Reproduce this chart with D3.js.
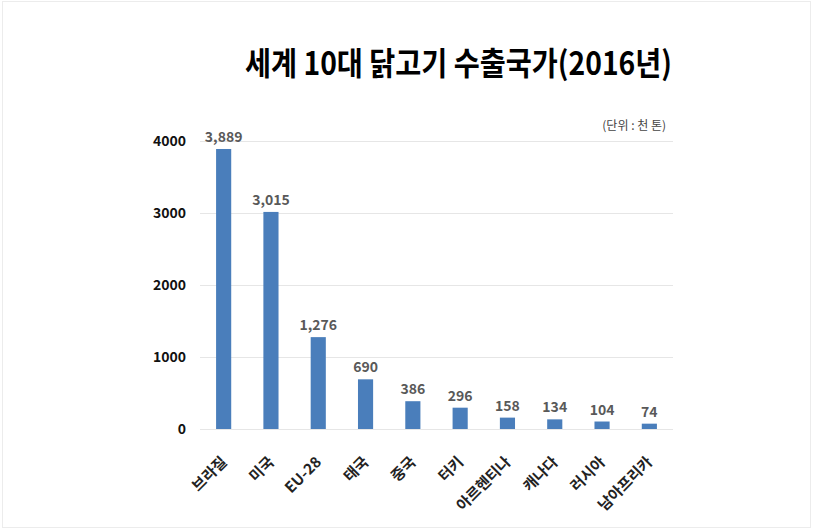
<!DOCTYPE html>
<html>
<head>
<meta charset="utf-8">
<script src="https://cdn.jsdelivr.net/npm/d3@7"></script>
<style>
  body { margin: 0; background: #fff; }
  svg text { font-family: "Noto Sans CJK KR", "Noto Sans", sans-serif; }
</style>
</head>
<body>
<svg id="chart" width="814" height="530"></svg>
<script>
// 세계 10대 닭고기 수출국가 (2016년), 단위: 천 톤
const countries = ['브라질', '미국', 'EU-28', '태국', '중국', '터키', '아르헨티나', '캐나다', '러시아', '남아프리카'];
const exportVolumes = [3889, 3015, 1276, 690, 386, 296, 158, 134, 104, 74];
const yTicks = [0, 1000, 2000, 3000, 4000];

const svg = d3.select('#chart');

// faint frame round the picture
svg.append('rect')
  .attr('x', 2.5).attr('y', 1.5)
  .attr('width', 808).attr('height', 526)
  .attr('fill', 'none')
  .attr('stroke', '#ececec');

const plotLeft = 200, plotRight = 673, plotTop = 141, plotBottom = 429;

const x = d3.scaleBand()
  .domain(countries)
  .range([plotLeft, plotRight])
  .paddingInner(0.68)
  .paddingOuter(0.34);

const y = d3.scaleLinear()
  .domain([0, 4000])
  .range([plotBottom, plotTop]);

// gridlines
svg.append('g')
  .selectAll('line')
  .data(yTicks)
  .enter()
  .append('line')
  .attr('x1', plotLeft).attr('x2', plotRight)
  .attr('y1', d => y(d) + 0.5).attr('y2', d => y(d) + 0.5)
  .attr('stroke', '#e6e6e6')
  .attr('stroke-width', 1.2);

// y axis labels
const yAxis = d3.axisLeft(y).tickValues(yTicks).tickFormat(d3.format('d')).tickSize(0).tickPadding(0);
const gy = svg.append('g')
  .attr('transform', 'translate(186,0)')
  .call(yAxis);
gy.select('.domain').remove();
gy.selectAll('text')
  .attr('font-size', 14)
  .attr('font-weight', 'bold')
  .attr('fill', '#111')
  .attr('font-family', '"Noto Sans CJK KR", sans-serif');

// bars
svg.append('g')
  .selectAll('rect')
  .data(exportVolumes)
  .enter()
  .append('rect')
  .attr('x', (d, i) => x(countries[i]))
  .attr('y', d => y(d))
  .attr('width', x.bandwidth())
  .attr('height', d => plotBottom - y(d))
  .attr('fill', '#4a7ebb');

// value labels
svg.append('g')
  .selectAll('text')
  .data(exportVolumes)
  .enter()
  .append('text')
  .attr('x', (d, i) => x(countries[i]) + x.bandwidth() / 2)
  .attr('y', d => y(d) - 7)
  .attr('text-anchor', 'middle')
  .attr('font-size', 14)
  .attr('font-weight', 'bold')
  .attr('fill', '#595959')
  .text(d => d3.format(',')(d));

// x axis labels, rotated
const xAxis = d3.axisBottom(x).tickSize(0).tickPadding(0);
const gx = svg.append('g')
  .attr('transform', 'translate(0,' + plotBottom + ')')
  .call(xAxis);
gx.select('.domain').remove();
gx.selectAll('text')
  .attr('font-size', 15)
  .attr('font-weight', 'bold')
  .attr('fill', '#222')
  .attr('font-family', '"Noto Sans CJK KR", sans-serif')
  .attr('text-anchor', 'end')
  .attr('dy', 0)
  .attr('transform', 'translate(4,34) rotate(-45)');

// unit note
svg.append('text')
  .attr('x', 666).attr('y', 130)
  .attr('text-anchor', 'end')
  .attr('font-size', 12)
  .attr('fill', '#444')
  .text('(단위 : 천 톤)');

// title
svg.append('text')
  .attr('x', 245).attr('y', 75)
  .attr('font-size', 32)
  .attr('font-weight', 'bold')
  .attr('fill', '#000')
  .attr('textLength', 427)
  .attr('lengthAdjust', 'spacingAndGlyphs')
  .text('세계 10대 닭고기 수출국가(2016년)');
</script>
</body>
</html>
